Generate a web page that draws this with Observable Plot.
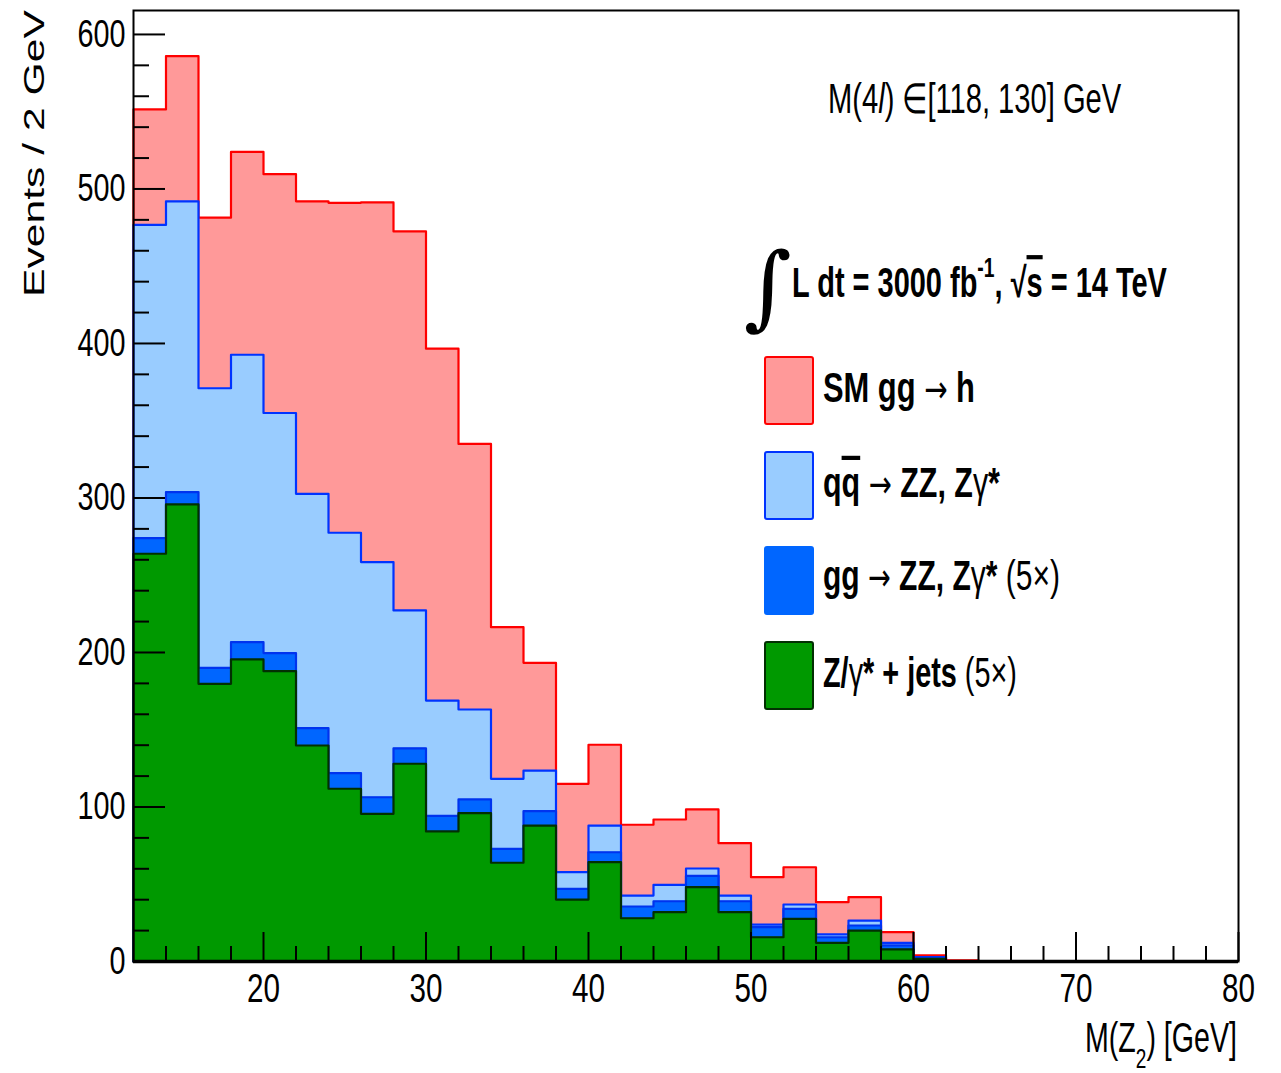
<!DOCTYPE html>
<html><head><meta charset="utf-8">
<script src="https://cdn.jsdelivr.net/npm/d3@7"></script>
<script src="https://cdn.jsdelivr.net/npm/@observablehq/plot@0.6"></script>
<style>body{margin:0;background:#fff} svg{display:block}</style>
</head><body><div id="chart"></div>
<script>
// Bin edges of M(Z2) in GeV (2 GeV bins)
const binEdges = [12,14,16,18,20,22,24,26,28,30,32,34,36,38,40,42,44,46,48,50,52,54,56,58,60,62,64];
// Per-bin contributions (events / 2 GeV)
const zJets = [263.9,295.8,179.7,195.5,187.9,139.8,111.8,95.6,128.0,84.2,96.0,63.9,88.0,40.1,64.3,28.0,31.9,48.1,31.9,15.7,27.6,12.1,20.0,7.8,1.7,0.1];
const ggZZ  = [10.1,8.0,10.3,11.2,11.7,11.2,10.1,10.7,10.0,10.0,8.9,9.0,9.3,6.9,6.4,7.6,7.1,7.3,7.1,6.5,6.5,3.6,3.3,2.6,0.7,0.1];
const qqZZ  = [202.7,188.2,181.0,186.0,155.4,151.7,155.6,152.2,89.2,74.7,58.2,45.3,26.3,10.8,17.3,7.1,10.6,4.8,3.7,1.7,2.8,1.8,3.2,1.7,0.4,0.1];
const ggH   = [74.8,94.0,110.4,131.3,154.6,189.3,213.5,232.8,245.3,227.7,171.9,98.2,69.7,57.2,52.3,45.8,42.3,38.2,33.9,30.7,24.1,20.9,15.1,6.9,1.1,0.5];
// Axis ticks
const xMajorTicks = [20,30,40,50,60,70,80];
const xMinorTicks = [14,16,18,22,24,26,28,32,34,36,38,42,44,46,48,52,54,56,58,62,64,66,68,72,74,76,78];
const yMajorTicks = [0,100,200,300,400,500,600];
const yMinorTicks = [20,40,60,80,120,140,160,180,220,240,260,280,320,340,360,380,420,440,460,480,520,540,560,580];

// Stack (cumulative, as in THStack)
const cumZ = zJets.map(v => v);
const cumGG = cumZ.map((v,i) => v + ggZZ[i]);
const cumQQ = cumGG.map((v,i) => v + qqZZ[i]);
const cumTot = cumQQ.map((v,i) => v + ggH[i]);

function stepPts(vals){
  const p = [];
  vals.forEach((v,i) => { p.push({x: binEdges[i], y: v}); p.push({x: binEdges[i+1], y: v}); });
  return p;
}
function stepLine(vals){
  const p = stepPts(vals);
  return [{x: binEdges[0], y: 0}, ...p, {x: binEdges[binEdges.length-1], y: 0}];
}

const layers = [
  {vals: cumTot, fill: "#ff9999", stroke: "#ff0000"},
  {vals: cumQQ, fill: "#99ccff", stroke: "#0033ff"},
  {vals: cumGG, fill: "#0066ff", stroke: "#0033ee"},
  {vals: cumZ,  fill: "#009900", stroke: "#023002"}
];

const W = 1281, H = 1073, mL = 133, mR = 43, mT = 10, mB = 112;
const fw = W - mL - mR, fh = H - mT - mB;

const marks = [];
for (const L of layers) {
  marks.push(Plot.areaY(stepPts(L.vals), {x: "x", y1: 0, y2: "y", fill: L.fill}));
  marks.push(Plot.line(stepLine(L.vals), {x: "x", y: "y", stroke: L.stroke, strokeWidth: 2.2}));
}
marks.push(Plot.ruleX(xMinorTicks, {insetTop: fh - 15, stroke: "black", strokeWidth: 2}));
marks.push(Plot.ruleX(xMajorTicks, {insetTop: fh - 29, stroke: "black", strokeWidth: 2}));
marks.push(Plot.ruleY(yMinorTicks, {insetRight: fw - 16, stroke: "black", strokeWidth: 2}));
marks.push(Plot.ruleY(yMajorTicks, {insetRight: fw - 32, stroke: "black", strokeWidth: 2}));
marks.push(Plot.frame({stroke: "black", strokeWidth: 2}));
marks.push(Plot.ruleY([0], {stroke: "black", strokeWidth: 3.5}));
marks.push(Plot.axisX({ticks: xMajorTicks, tickSize: 0, tickPadding: 12, fontSize: 40, label: null}));
marks.push(Plot.axisY({ticks: yMajorTicks, tickSize: 0, tickPadding: 8, fontSize: 38, label: null}));

const svg = Plot.plot({
  width: W, height: H,
  marginLeft: mL, marginRight: mR, marginTop: mT, marginBottom: mB,
  x: {domain: [12, 80]},
  y: {domain: [0, 615.5]},
  style: {fontFamily: "'Liberation Sans', Arial, sans-serif", background: "#fff", color: "#000"},
  marks
});
document.getElementById("chart").appendChild(svg);

const S = d3.select(svg);
// Condense tick labels like ROOT's Helvetica
S.selectAll('g[aria-label="x-axis tick label"] text').each(function(){
  const t = this.textContent; d3.select(this).attr("textLength", 16.5 * t.length).attr("lengthAdjust", "spacingAndGlyphs");
});
S.selectAll('g[aria-label="y-axis tick label"] text').each(function(){
  const t = this.textContent; d3.select(this).attr("textLength", 16 * t.length).attr("lengthAdjust", "spacingAndGlyphs");
});

const FONT = "'Liberation Sans', Arial, sans-serif";
const ARROW = "'DejaVu Sans', sans-serif";
const g = S.append("g").attr("fill", "black").attr("text-anchor", "start");

// Horizontally scale a text so its width matches the target (condensed ROOT look)
function fit(t, x, y, w){
  const n = t.node().getComputedTextLength();
  t.attr("x", 0).attr("y", 0).attr("transform", `translate(${x},${y}) scale(${(w / n).toFixed(4)},1)`);
}

// Y axis title
{
  const t = g.append("text").attr("text-anchor", "start").attr("font-family", FONT)
    .attr("font-size", 29).text("Events / 2 GeV");
  const n = t.node().getComputedTextLength();
  t.attr("transform", `translate(44,297) rotate(-90) scale(${(287 / n).toFixed(4)},1)`);
}

// X axis title M(Z2) [GeV]
{
  const t = g.append("text").attr("font-family", FONT).attr("font-size", 42);
  t.append("tspan").text("M(Z");
  t.append("tspan").attr("font-size", 28).attr("dy", 16).text("2");
  t.append("tspan").attr("dy", -16).text(") [GeV]");
  fit(t, 1085, 1052, 152);
}

// Mass window annotation
{
  const t = g.append("text").attr("font-family", FONT).attr("font-size", 42);
  t.append("tspan").text("M(4");
  t.append("tspan").attr("font-style", "italic").text("l");
  t.append("tspan").text(") ∈[118, 130] GeV");
  fit(t, 828, 113, 294);
}

// Luminosity line
g.append("text").attr("x", 768).attr("y", 318).attr("text-anchor", "middle")
  .attr("font-family", "'DejaVu Serif', serif").attr("font-size", 92).text("∫");
{
  const t = g.append("text").attr("font-family", FONT).attr("font-size", 42).attr("font-weight", "bold");
  t.append("tspan").text("L dt = 3000 fb");
  t.append("tspan").attr("font-size", 28).attr("dy", -20).text("-1");
  t.append("tspan").attr("dy", 20).text(", √");
  t.append("tspan").attr("text-decoration", "overline").text("s");
  t.append("tspan").text(" = 14 TeV");
  fit(t, 792, 297, 375);
}

// Legend
const legendBoxes = [
  {y: 357, fill: "#ff9999", stroke: "#ff0000", base: 402},
  {y: 452, fill: "#99ccff", stroke: "#0033ff", base: 497},
  {y: 547, fill: "#0066ff", stroke: "#0066ff", base: 590},
  {y: 642, fill: "#009900", stroke: "#023002", base: 687}
];
const legendWidths = [152, 177, 237, 194];
legendBoxes.forEach((b, i) => {
  g.append("rect").attr("x", 765).attr("y", b.y).attr("width", 48).attr("height", 67)
    .attr("rx", 2).attr("fill", b.fill).attr("stroke", b.stroke).attr("stroke-width", 2);
  const t = g.append("text").attr("font-family", FONT).attr("font-size", 42).attr("font-weight", "bold");
  const arrow = () => t.append("tspan").attr("font-weight", "normal").attr("font-family", ARROW).attr("font-size", 38);
  if (i === 0) {
    t.append("tspan").text("SM gg ");
    arrow().text("→");
    t.append("tspan").text(" h");
  } else if (i === 1) {
    t.append("tspan").text("q");
    t.append("tspan").attr("text-decoration", "overline").text("q");
    t.append("tspan").text(" ");
    arrow().text("→");
    t.append("tspan").text(" ZZ, Z");
    t.append("tspan").attr("font-weight", "normal").text("γ");
    t.append("tspan").text("*");
  } else if (i === 2) {
    t.append("tspan").text("gg ");
    arrow().text("→");
    t.append("tspan").text(" ZZ, Z");
    t.append("tspan").attr("font-weight", "normal").text("γ");
    t.append("tspan").text("*");
    t.append("tspan").attr("font-weight", "normal").text(" (5×)");
  } else {
    t.append("tspan").text("Z/");
    t.append("tspan").attr("font-weight", "normal").text("γ");
    t.append("tspan").text("* + jets");
    t.append("tspan").attr("font-weight", "normal").text(" (5×)");
  }
  fit(t, 823, b.base, legendWidths[i]);
});
</script>
</body></html>
